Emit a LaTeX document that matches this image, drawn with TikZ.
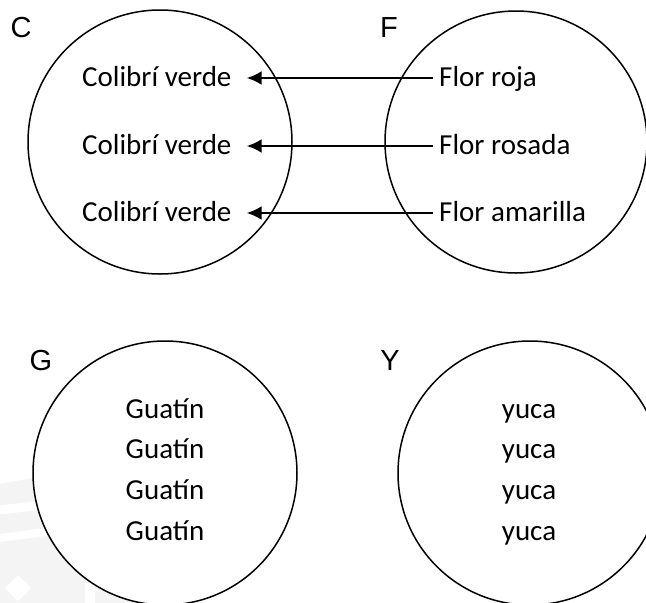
\documentclass[tikz,border=0pt]{standalone}
\usepackage{fontspec}
\setmainfont{Carlito}
\newfontfamily\rotfont{Liberation Sans}
\usetikzlibrary{arrows.meta}

\begin{document}
\begin{tikzpicture}[x=1pt, y=-1pt, >={Latex[length=15pt,width=14pt]}, %1pt = 1px, y hacia abajo
    conjunto/.style={draw, line width=1.5pt, fill=white},
    elem/.style={inner sep=0pt, font=\fontsize{29}{34}\selectfont},
    rotulo/.style={inner sep=0pt, anchor=base, font=\rotfont\fontsize{29}{34}\selectfont},
    flecha/.style={->, line width=2.4pt, shorten >=15pt, shorten <=6pt}]
    \clip (0,0) rectangle (646,603);
    % marca de agua (gris claro, abajo a la izquierda)
    \fill[gray!9] (0,484) .. controls (50,474) and (100,468) .. (150,466) -- (150,603) -- (0,603) -- cycle;
    \draw[white, line width=9pt] (0,510) .. controls (50,504) .. (150,492);
    \draw[white, line width=8pt] (0,538) .. controls (60,530) .. (150,518);
    \fill[white] (18,575) -- (31,588) -- (18,601) -- (5,588) -- cycle;
    \fill[white] (85,583) rectangle (95,603);
    % conjuntos
    \draw[conjunto] (160,142) circle (132);
    \draw[conjunto] (516,142) circle (131);
    \draw[conjunto] (165,473) circle (132);
    \draw[conjunto] (530,473) circle (132);
    \node[rotulo] (C) at (21,37) {C};
    \node[rotulo] (F) at (389,37) {F};
    \node[rotulo] (G) at (41,370) {G};
    \node[rotulo] (Y) at (390,370) {Y};
    % elementos de C y F
    \node[elem, anchor=base west] (c1) at (82,86) {Colibrí verde};
    \node[elem, anchor=base west] (c2) at (82,154) {Colibrí verde};
    \node[elem, anchor=base west] (c3) at (82,221) {Colibrí verde};
    \node[elem, anchor=base west] (f1) at (439,86) {Flor roja};
    \node[elem, anchor=base west] (f2) at (439,154) {Flor rosada};
    \node[elem, anchor=base west] (f3) at (439,221) {Flor amarilla};
    \foreach \i in {1,2,3}
        \draw[flecha] ([yshift=8pt]f\i.base west) -- ([yshift=8pt]c\i.base east);
    % elementos de G y Y
    \foreach \i/\y in {1/418, 2/458, 3/499, 4/540}{
        \node[elem, anchor=base] (g\i) at (165,\y) {Guatín};
        \node[elem, anchor=base] (y\i) at (529,\y) {yuca};
    }
\end{tikzpicture}
\end{document}
